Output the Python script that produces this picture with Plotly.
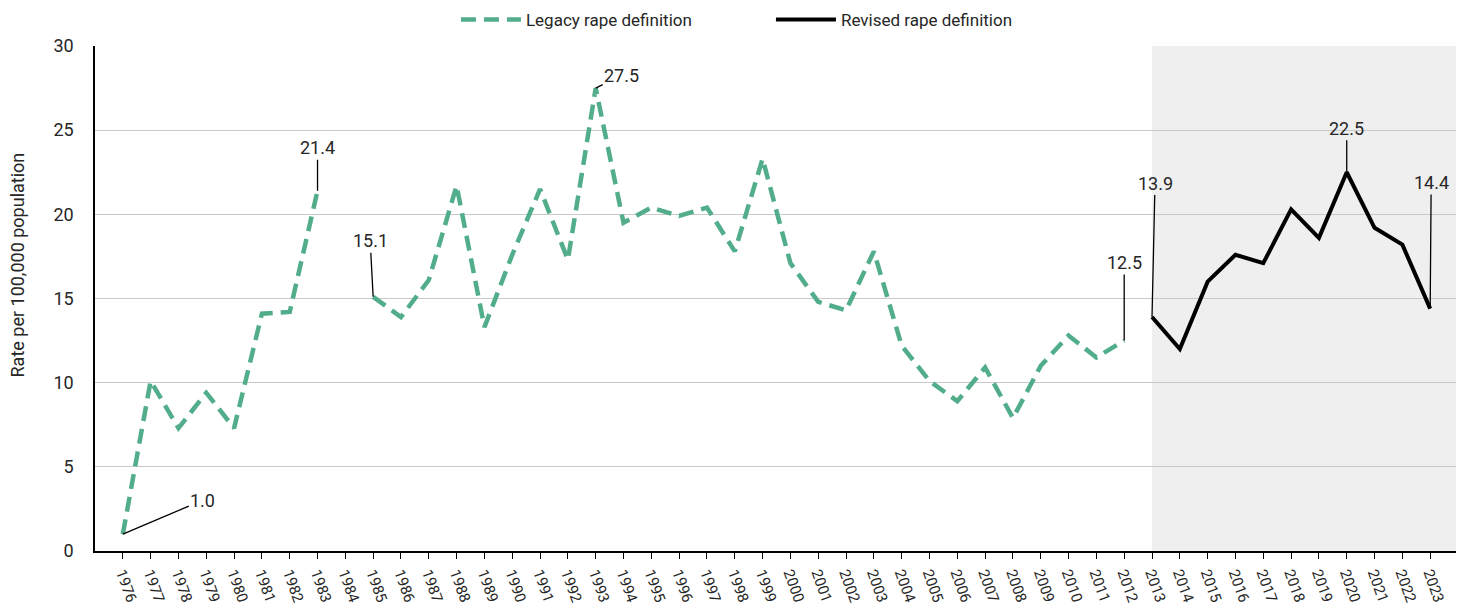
import plotly.graph_objects as go

# ---- data ----
legacy_years = list(range(1976, 2013))
legacy_values = [1.0, 10.1, 7.3, 9.4, 7.3, 14.1, 14.2, 21.4, None, 15.1,
                 13.9, 16.1, 21.7, 13.3, 17.6, 21.5, 17.3, 27.5, 19.5, 20.4,
                 19.9, 20.4, 17.8, 23.3, 17.1, 14.8, 14.3, 17.8, 12.2, 10.1,
                 8.9, 10.9, 7.9, 11.0, 12.8, 11.5, 12.5]
revised_years = list(range(2013, 2024))
revised_values = [13.9, 12.0, 16.0, 17.6, 17.1, 20.3, 18.6, 22.5, 19.2, 18.2, 14.4]
tick_years = list(range(1976, 2024))
tick_labels = [str(y) for y in tick_years]
series_names = ["Legacy rape definition", "Revised rape definition"]
y_title = "Rate per 100,000 population"
labelled_years = [1976, 1983, 1985, 1993, 2012, 2013, 2020, 2023]

# ---- style ----
GREEN = "#52AD8A"
FONT = "Roboto, Arial, sans-serif"
TXT = "#262626"
label_offsets = {1976: (80, -34), 1983: (0, -43), 1985: (-3, -56), 1993: (26, -13),
                 2012: (0, -78), 2013: (3, -134), 2020: (0, -44), 2023: (1, -126)}
x_range = [1975, 2024]

fig = go.Figure()
fig.add_trace(go.Scatter(x=legacy_years, y=legacy_values, mode="lines",
                         name=series_names[0], connectgaps=False,
                         line=dict(color=GREEN, width=4.5, dash="15px,8px")))
fig.add_trace(go.Scatter(x=revised_years, y=revised_values, mode="lines",
                         name=series_names[1],
                         line=dict(color="black", width=4)))

fig.add_shape(type="rect", xref="x", yref="paper", x0=revised_years[0], x1=x_range[1],
              y0=0, y1=1, fillcolor="#EFEFEF", line_width=0, layer="below")

lookup = dict(zip(legacy_years, legacy_values))
lookup.update(dict(zip(revised_years, revised_values)))
for yr in labelled_years:
    v = lookup[yr]
    ax, ay = label_offsets[yr]
    fig.add_annotation(x=yr, y=v, text=f"{v:.1f}", showarrow=True, arrowhead=0,
                       arrowwidth=1.3, arrowcolor="black", ax=ax, ay=ay, standoff=0,
                       font=dict(family=FONT, size=18, color=TXT))

# y-axis title (placed as in the reference, slightly above centre)
fig.add_annotation(xref="paper", yref="paper", x=-0.057, y=0.566, text=y_title,
                   textangle=-90, showarrow=False, xanchor="center", yanchor="middle",
                   font=dict(family=FONT, size=18, color=TXT))

fig.update_layout(
    width=1456, height=599,
    margin=dict(l=87, r=6, t=38, b=56, autoexpand=False),
    plot_bgcolor="white", paper_bgcolor="white",
    font=dict(family=FONT, size=15, color=TXT),
    showlegend=True,
    legend=dict(orientation="h", x=0.524, xref="container", xanchor="center",
                y=1 - 12 / 599, yref="container", yanchor="middle",
                font=dict(family=FONT, size=17, color=TXT),
                entrywidth=240, entrywidthmode="pixels", itemwidth=60,
                bgcolor="rgba(0,0,0,0)"),
)
fig.update_xaxes(range=x_range, tickmode="array", tickvals=tick_years, ticktext=tick_labels,
                 tickangle=70, ticks="outside", ticklen=6, tickcolor="black",
                 showline=True, linecolor="black", linewidth=1.5, showgrid=False,
                 zeroline=False, automargin=False,
                 tickfont=dict(family=FONT, size=15, color=TXT))
fig.update_yaxes(range=[0, 30], tickvals=[0, 5, 10, 15, 20, 25, 30], showgrid=True,
                 gridcolor="#C9C9C9", gridwidth=1.2, showline=True, linecolor="black",
                 linewidth=1.5, zeroline=False, ticks="", ticklabelstandoff=16,
                 automargin=False,
                 tickfont=dict(family=FONT, size=18, color=TXT))

fig.write_html("out.html")
